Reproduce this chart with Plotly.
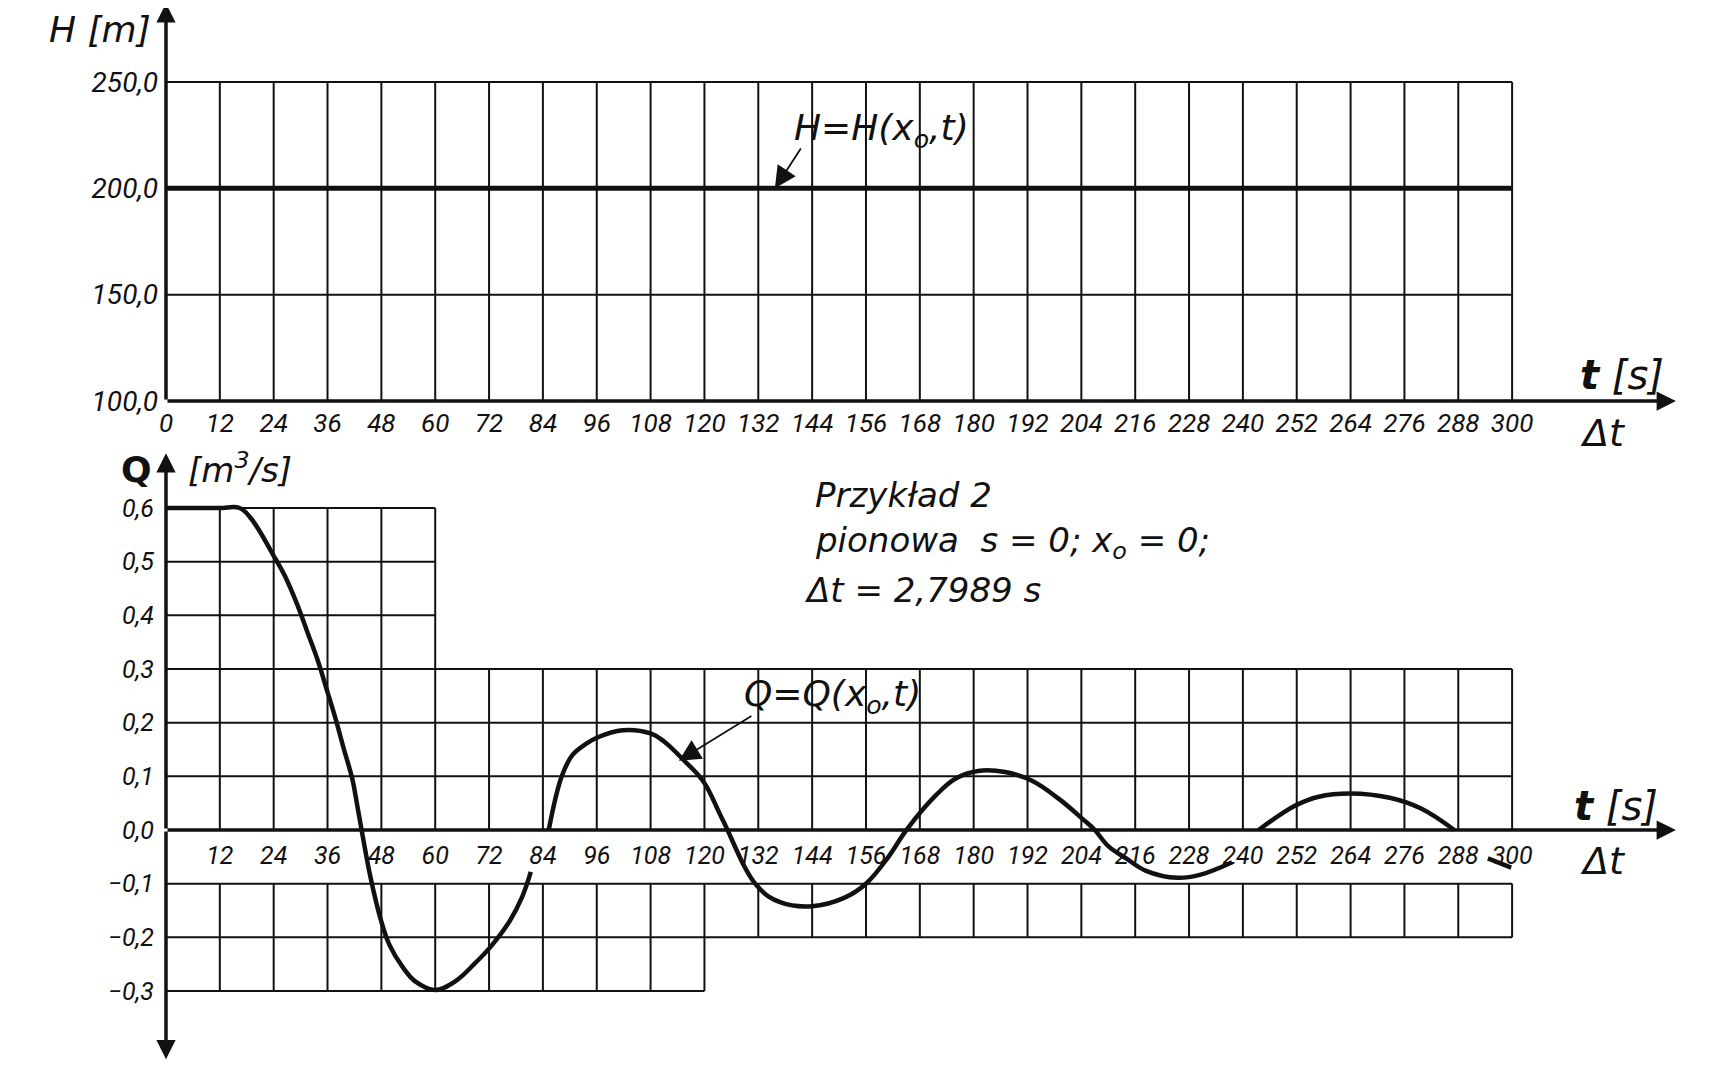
import plotly.graph_objects as go

# ---------------- data ----------------
t_ticks = [0, 12, 24, 36, 48, 60, 72, 84, 96, 108, 120, 132, 144, 156, 168,
           180, 192, 204, 216, 228, 240, 252, 264, 276, 288, 300]
t_labels = [str(v) for v in t_ticks]
q_t_ticks = t_ticks[1:]
q_t_labels = t_labels[1:]

H_ticks = [100, 150, 200, 250]
H_labels = ["100,0", "150,0", "200,0", "250,0"]

Q_ticks = [-0.3, -0.2, -0.1, 0.0, 0.1, 0.2, 0.3, 0.4, 0.5, 0.6]
Q_labels = ["\u22120,3", "\u22120,2", "\u22120,1", "0,0", "0,1", "0,2", "0,3", "0,4", "0,5", "0,6"]

H_t = [0, 300]
H_vals = [200.0, 200.0]

Q_t = [0, 6, 12, 16.4, 19.0, 24, 26.4, 29.3, 31.5, 33.7, 36, 37.8, 39.6, 41.5, 42.6, 43.6,
       45.6, 47.8, 49.8, 52.8, 55.7, 60, 64.6, 69, 72, 76.5, 79.4, 81.3, None,
       85.3, 88.2, 90.6, 93.5, 96, 101.8, 108, 111, 115.4, 119.8, 124, 131.7, 137, 144,
       151, 156, 161, 165, 171.6, 176, 181, 187, 193, 199, 204.5, 207, 210, 214,
       218.4, 225.4, 230.6, 237.6, None,
       243.5, 251.6, 256.9, 264, 272.7, 279.7, 287.1, None,
       294.6, 299.8]
Q_vals = [0.6, 0.6, 0.6, 0.6, 0.58, 0.511, 0.475, 0.419, 0.369, 0.319, 0.257, 0.207, 0.152,
          0.096, 0.047, 0.0,
          -0.089, -0.165, -0.214, -0.256, -0.283, -0.298, -0.281, -0.247, -0.221, -0.171,
          -0.124, -0.078, None,
          0.0, 0.1, 0.14, 0.16, 0.172, 0.186, 0.18, 0.165, 0.13, 0.09, 0.02, -0.104,
          -0.135, -0.142, -0.127, -0.1, -0.05, 0.0, 0.065, 0.096, 0.11, 0.108, 0.092,
          0.058, 0.019, 0.0, -0.03, -0.053, -0.076, -0.089, -0.083, -0.06, None,
          0.0, 0.045, 0.062, 0.068, 0.06, 0.04, 0.0, None,
          -0.053, -0.07]

# ---------------- style ----------------
INK = "#111111"
NUM = "Roboto, Liberation Sans, sans-serif"
HAND = "DejaVu Sans, Liberation Sans, sans-serif"

X_RANGE = [-35.21, 346.33]
H_RANGE = [-223.04, 284.80]
Q_RANGE = [-0.4807, 1.5317]
Y_POS = 0.09229

fig = go.Figure()
fig.add_trace(go.Scatter(x=H_t, y=H_vals, mode="lines", xaxis="x", yaxis="y",
                         line=dict(color=INK, width=5), showlegend=False, hoverinfo="skip"))
fig.add_trace(go.Scatter(x=Q_t, y=Q_vals, mode="lines", xaxis="x2", yaxis="y2",
                         line=dict(color=INK, width=4.5, shape="spline", smoothing=1.1),
                         connectgaps=False, showlegend=False, hoverinfo="skip"))

shapes = []
def seg(x0, y0, x1, y1, yref, w=2):
    shapes.append(dict(type="line", xref="x", yref=yref, x0=x0, y0=y0, x1=x1, y1=y1,
                       line=dict(color=INK, width=w), layer="below"))

# top grid
for t in t_ticks[1:]:
    seg(t, H_ticks[0], t, H_ticks[-1], "y")
for h in H_ticks[1:]:
    seg(0, h, t_ticks[-1], h, "y")

# bottom grid
for t in t_ticks[1:]:
    seg(t, 0.0, t, 0.3, "y2")
    seg(t, -0.1, t, -0.2, "y2")
    if t <= 60:
        seg(t, 0.3, t, 0.6, "y2")
    if t <= 120:
        seg(t, -0.2, t, -0.3, "y2")
for q in [0.4, 0.5, 0.6]:
    seg(0, q, 60, q, "y2")
for q in [0.1, 0.2, 0.3, -0.1, -0.2]:
    seg(0, q, 300, q, "y2")
seg(0, -0.3, 120, -0.3, "y2")

annotations = []
def arrow(x, y, ax, ay, yref, w=3.5, head=2, size=1.1):
    annotations.append(dict(x=x, y=y, ax=ax, ay=ay, xref="x", yref=yref,
                            axref="x", ayref=yref, text="", showarrow=True,
                            arrowhead=head, arrowsize=size, arrowwidth=w,
                            arrowcolor=INK, standoff=0, startstandoff=0))

def label(x, y, text, yref, size, anchor="left", family=HAND, weight="normal", style="italic"):
    annotations.append(dict(x=x, y=y, xref="x", yref=yref, text=text, showarrow=False,
                            xanchor=anchor, yanchor="middle",
                            font=dict(family=family, size=size, color=INK,
                                      style=style, weight=weight)))

# axes with arrows
arrow(336.5, 100, 0, 100, "y")
arrow(0, 287, 0, 100, "y")
arrow(336.5, 0.0, 0, 0.0, "y2")
arrow(0, 0.702, 0, 0.0, "y2")
arrow(0, -0.427, 0, 0.0, "y2")

# curve pointers
arrow(135.7, 200, 141.7, 219.4, "y", w=1.8, head=2, size=2.4)
arrow(114.3, 0.129, 130.8, 0.214, "y2", w=1.8, head=2, size=2.4)

# texts
label(-2.9, 274.5, "H [m]", "y", 36, anchor="right")
label(139.5, 227.0, "H=H(x<sub>o</sub>,t)", "y", 36)
label(314.7, 112.2, "<b>t</b> [s]", "y", 40)
label(314.7, 85.0, "\u0394t", "y", 38)

label(-6.5, 0.672, "<b>Q</b>", "y2", 36, anchor="center", style="normal")
label(4.46, 0.675, "[m<sup>3</sup>/s]", "y2", 34)
label(313.4, 0.0448, "<b>t</b> [s]", "y2", 40)
label(314.7, -0.0577, "\u0394t", "y2", 38)
label(144.2, 0.624, "Przykład 2", "y2", 34)
label(144.2, 0.535, "pionowa  s = 0; x<sub>o</sub> = 0;", "y2", 34)
label(141.7, 0.447, "\u0394t = 2,7989 s", "y2", 34)
label(128.4, 0.248, "Q=Q(x<sub>o</sub>,t)", "y2", 36)

tickfont_x = dict(family=NUM, size=26, color=INK, style="italic")
tickfont_x2 = dict(family=NUM, size=25, color=INK, style="italic")

fig.update_layout(
    width=1712, height=1080,
    margin=dict(l=0, r=0, t=0, b=0),
    paper_bgcolor="white", plot_bgcolor="white",
    showlegend=False,
    shapes=shapes, annotations=annotations,
    xaxis=dict(range=X_RANGE, domain=[0, 1], anchor="free", position=0.6361,
               tickvals=t_ticks, ticktext=t_labels, ticks="", showline=False,
               showgrid=False, zeroline=False, tickfont=tickfont_x,
               ticklabelstandoff=4),
    xaxis2=dict(range=X_RANGE, domain=[0, 1], anchor="free", position=0.2389,
                overlaying="x", tickvals=q_t_ticks, ticktext=q_t_labels, ticks="",
                showline=False, showgrid=False, zeroline=False, tickfont=tickfont_x2,
                ticklabelstandoff=8),
    yaxis=dict(range=H_RANGE, domain=[0, 1], anchor="free", position=Y_POS,
               tickvals=H_ticks, ticktext=H_labels, ticks="", showline=False,
               showgrid=False, zeroline=False,
               tickfont=dict(family=NUM, size=28, color=INK, style="italic"),
               ticklabelstandoff=8),
    yaxis2=dict(range=Q_RANGE, domain=[0, 1], anchor="free", position=Y_POS,
                overlaying="y", tickvals=Q_ticks, ticktext=Q_labels, ticks="",
                showline=False, showgrid=False, zeroline=False,
                tickfont=dict(family=NUM, size=25, color=INK, style="italic"),
                ticklabelstandoff=12),
)

fig.write_html("out.html")
